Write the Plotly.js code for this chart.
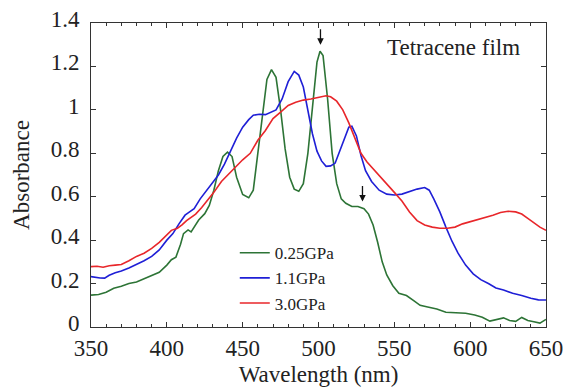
<!DOCTYPE html>
<html>
<head>
<meta charset="utf-8">
<script src="https://cdn.plot.ly/plotly-3.0.1.min.js"></script>
<style>html,body{margin:0;padding:0;background:#fff;}#chart{width:566px;height:387px;}</style>
</head>
<body>
<div id="chart"></div>
<script>
// 0.25 GPa
const wlGreen = [350,355,360,365,370,375,380,385,390,395,400,403,406,409,411,414,416,418,421,425,428,431,434,437,440,443,446,450,454,457,460,463,466,469,472,475,478,481,484,487,490,493,496,499,501,503,506,509,512,515,518,522,526,530,533,536,539,542,545,549,553,558,563,567,572,578,584,590,597,603,608,613,618,622,626,630,634,638,642,646,650];
const absGreen = [0.147,0.150,0.160,0.178,0.188,0.200,0.207,0.222,0.235,0.252,0.285,0.310,0.322,0.380,0.430,0.447,0.438,0.460,0.493,0.522,0.560,0.630,0.720,0.785,0.805,0.785,0.690,0.610,0.595,0.630,0.800,0.980,1.140,1.185,1.150,1.000,0.820,0.690,0.635,0.625,0.660,0.800,1.020,1.220,1.270,1.250,1.050,0.800,0.660,0.590,0.570,0.555,0.555,0.545,0.520,0.470,0.390,0.300,0.240,0.190,0.155,0.145,0.120,0.100,0.092,0.083,0.068,0.065,0.063,0.055,0.045,0.027,0.035,0.042,0.030,0.026,0.044,0.030,0.024,0.018,0.035];
// 1.1 GPa
const wlBlue = [350,353,356,359,362,366,370,375,380,385,390,395,400,404,408,412,415,418,422,426,430,434,438,442,446,450,454,457,461,465,469,472,476,480,484,487,490,493,496,499,502,505,508,511,514,517,520,522,525,528,531,535,540,545,550,555,560,565,570,573,576,580,584,588,592,597,602,607,612,617,622,628,634,640,645,650];
const absBlue = [0.232,0.228,0.226,0.225,0.238,0.250,0.258,0.272,0.288,0.305,0.325,0.355,0.400,0.430,0.475,0.515,0.530,0.545,0.590,0.625,0.660,0.700,0.750,0.810,0.870,0.920,0.955,0.975,0.980,0.978,0.990,1.000,1.050,1.130,1.177,1.160,1.105,1.000,0.890,0.810,0.765,0.740,0.742,0.755,0.810,0.870,0.920,0.925,0.880,0.790,0.720,0.670,0.630,0.612,0.608,0.612,0.625,0.635,0.642,0.630,0.590,0.530,0.460,0.395,0.340,0.285,0.245,0.218,0.200,0.180,0.170,0.155,0.145,0.132,0.125,0.124];
// 3.0 GPa
const wlRed = [350,354,358,362,366,370,375,380,385,390,395,399,403,407,410,413,416,419,423,427,431,436,440,445,450,455,460,465,470,475,480,485,490,495,500,505,508,512,516,520,524,528,532,536,540,545,550,555,560,565,570,575,580,585,590,595,600,605,610,615,620,625,630,634,638,642,646,650];
const absRed = [0.278,0.280,0.275,0.282,0.285,0.288,0.305,0.325,0.340,0.362,0.390,0.420,0.445,0.455,0.470,0.490,0.505,0.520,0.550,0.585,0.620,0.670,0.700,0.735,0.770,0.800,0.860,0.905,0.960,0.990,1.020,1.035,1.045,1.050,1.058,1.065,1.060,1.040,1.000,0.940,0.870,0.800,0.760,0.730,0.700,0.660,0.620,0.580,0.530,0.490,0.470,0.460,0.455,0.455,0.460,0.475,0.485,0.493,0.505,0.515,0.527,0.533,0.530,0.520,0.500,0.480,0.460,0.445];

const seriesNames = ['0.25GPa','1.1GPa','3.0GPa'];
const xTicks = [350,400,450,500,550,600,650];
const yTicks = [0,0.2,0.4,0.6,0.8,1,1.2,1.4];
// arrows marking peaks: [wavelength, absorbance]
const arrowPts = [[501.3,1.30],[529,0.578]];

const serif = '"Liberation Serif", "Times New Roman", Times, serif';
const traces = [
  {x: wlGreen, y: absGreen, name: seriesNames[0], mode: 'lines', line: {color: '#2d7436', width: 1.6}},
  {x: wlBlue,  y: absBlue,  name: seriesNames[1], mode: 'lines', line: {color: '#1f1fd6', width: 1.6}},
  {x: wlRed,   y: absRed,   name: seriesNames[2], mode: 'lines', line: {color: '#e8262a', width: 1.6}}
];

const axisCommon = {
  showline: true, linecolor: '#333', linewidth: 1, mirror: 'allticks',
  ticks: 'inside', ticklen: 5, tickcolor: '#333', tickwidth: 1,
  showgrid: false, zeroline: false,
  tickfont: {family: serif, size: 23, color: '#222'}
};

const layout = {
  width: 566, height: 387,
  margin: {l: 91, r: 20, t: 23, b: 60},
  paper_bgcolor: '#fff', plot_bgcolor: '#fff',
  showlegend: true,
  legend: {x: 0.316, y: 0.302, xanchor: 'left', yanchor: 'top', bgcolor: 'rgba(0,0,0,0)',
           font: {family: serif, size: 17, color: '#222'}, tracegroupgap: 0},
  xaxis: Object.assign({}, axisCommon, {
    range: [350, 650], tickvals: xTicks, ticktext: xTicks.map(String),
    minor: {dtick: 10, ticks: 'inside', ticklen: 3, tickcolor: '#333'},
    title: {text: 'Wavelength (nm)', font: {family: serif, size: 23, color: '#222'}, standoff: 6}
  }),
  yaxis: Object.assign({}, axisCommon, {
    range: [0, 1.4], tickvals: yTicks, ticktext: yTicks.map(String),
    ticklabelstandoff: 6, ticklabelshift: -4,
    title: {text: 'Absorbance', font: {family: serif, size: 23, color: '#222'}, standoff: 14}
  }),
  annotations: [
    {xref: 'paper', yref: 'paper', x: 0.947, y: 0.92, xanchor: 'right', yanchor: 'middle',
     text: 'Tetracene film', showarrow: false, font: {family: serif, size: 23, color: '#222'}}
  ].concat(arrowPts.map(p => ({x: p[0], y: p[1], xref: 'x', yref: 'y', text: '', showarrow: true,
     arrowhead: 2, arrowsize: 1, arrowwidth: 1.3, arrowcolor: '#111', ax: 0, ay: -17})))
};

Plotly.newPlot('chart', traces, layout, {displayModeBar: false, staticPlot: true});
</script>
</body>
</html>
